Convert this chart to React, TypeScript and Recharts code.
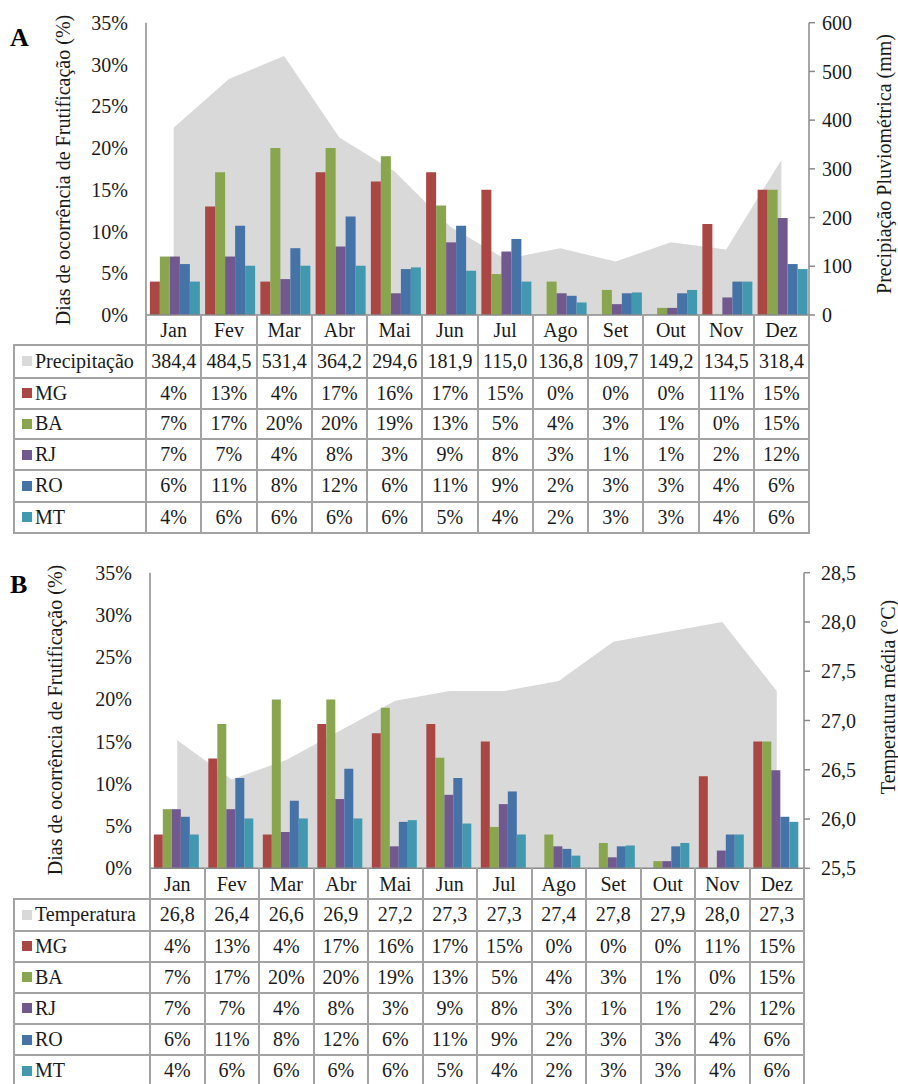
import React from 'react';
import { ComposedChart, Bar, Area, XAxis, YAxis } from 'recharts';

const months = ['Jan', 'Fev', 'Mar', 'Abr', 'Mai', 'Jun', 'Jul', 'Ago', 'Set', 'Out', 'Nov', 'Dez'];
const precipitation = [384.4, 484.5, 531.4, 364.2, 294.6, 181.9, 115.0, 136.8, 109.7, 149.2, 134.5, 318.4];
const temperature = [26.8, 26.4, 26.6, 26.9, 27.2, 27.3, 27.3, 27.4, 27.8, 27.9, 28.0, 27.3];

// bar heights (%)
const mgBars = [4.0, 13.0, 4.0, 17.1, 16.0, 17.1, 15.0, 0, 0, 0, 10.9, 15.0];
const baBars = [7.0, 17.1, 20.0, 20.0, 19.0, 13.1, 4.9, 4.0, 3.0, 0.85, 0, 15.0];
const rjBars = [7.0, 7.0, 4.3, 8.2, 2.6, 8.7, 7.6, 2.6, 1.3, 0.85, 2.1, 11.6];
const roBars = [6.1, 10.7, 8.0, 11.8, 5.5, 10.7, 9.1, 2.3, 2.6, 2.6, 4.0, 6.1];
const mtBars = [4.0, 5.9, 5.9, 5.9, 5.7, 5.3, 4.0, 1.5, 2.7, 3.0, 4.0, 5.5];

// table values (%)
const mgTable = [4, 13, 4, 17, 16, 17, 15, 0, 0, 0, 11, 15];
const baTable = [7, 17, 20, 20, 19, 13, 5, 4, 3, 1, 0, 15];
const rjTable = [7, 7, 4, 8, 3, 9, 8, 3, 1, 1, 2, 12];
const roTable = [6, 11, 8, 12, 6, 11, 9, 2, 3, 3, 4, 6];
const mtTable = [4, 6, 6, 6, 6, 5, 4, 2, 3, 3, 4, 6];

const leftTicks = [0, 5, 10, 15, 20, 25, 30, 35];
const precTicks = [0, 100, 200, 300, 400, 500, 600];
const tempTicks = [25.5, 26.0, 26.5, 27.0, 27.5, 28.0, 28.5];

const COLORS = { MG: '#AA4643', BA: '#89A54E', RJ: '#71588F', RO: '#4572A7', MT: '#4198AF' };
const AREA_FILL = '#d9d9d9';
const FONT = '"Liberation Serif", "Times New Roman", serif';
const TEXT = '#1a1a1a';
const AXIS = '#8a8a8a';
const GRID = '#a3a3a3';

const data = months.map((m, i) => ({
  month: m,
  prec: precipitation[i],
  temp: temperature[i],
  MG: mgBars[i],
  BA: baBars[i],
  RJ: rjBars[i],
  RO: roBars[i],
  MT: mtBars[i],
}));

const seriesRows = [
  { name: 'MG', color: COLORS.MG, values: mgTable },
  { name: 'BA', color: COLORS.BA, values: baTable },
  { name: 'RJ', color: COLORS.RJ, values: rjTable },
  { name: 'RO', color: COLORS.RO, values: roTable },
  { name: 'MT', color: COLORS.MT, values: mtTable },
];

type PanelProps = {
  panelTop: number;
  letter: string;
  letterTop: number;
  plotLeft: number;
  plotRight: number;
  plotTop: number;
  plotBottom: number;
  headerBottom: number;
  rowBounds: number[];
  areaKey: string;
  rightDomain: [number, number];
  rightTicks: number[];
  rightFmt: (v: number) => string;
  rightTickMargin: number;
  leftTitleX: number;
  leftTitleY: number;
  rightTitle: string;
  rightTitleX: number;
  rightTitleY: number;
  firstLabel: string;
  firstValues: string[];
};

function Panel(p: PanelProps) {
  const W = 898;
  const chartH = p.headerBottom - p.panelTop;
  const yW = 60;
  const bw = (p.plotRight - p.plotLeft) / 12;
  const tableLeft = 14;
  const tableBottom = p.rowBounds[p.rowBounds.length - 1];
  const lines: React.ReactNode[] = [];
  const lw = 2;
  // vertical lines through header and rows
  for (let c = 0; c <= 12; c++) {
    const x = p.plotLeft + c * bw;
    lines.push(
      <div key={'v' + c} style={{ position: 'absolute', left: x - lw / 2, top: p.plotBottom, width: lw, height: tableBottom - p.plotBottom, background: GRID }} />
    );
  }
  lines.push(
    <div key="vl" style={{ position: 'absolute', left: tableLeft - lw / 2, top: p.rowBounds[0], width: lw, height: tableBottom - p.rowBounds[0], background: GRID }} />
  );
  p.rowBounds.forEach((y, i) => {
    lines.push(
      <div key={'h' + i} style={{ position: 'absolute', left: tableLeft - lw / 2, top: y - lw / 2, width: p.plotRight - tableLeft + lw, height: lw, background: GRID }} />
    );
  });

  const rows = [
    { name: p.firstLabel, color: AREA_FILL, texts: p.firstValues },
    ...seriesRows.map((r) => ({ name: r.name, color: r.color, texts: r.values.map((v) => `${v}%`) })),
  ];

  const cellStyle: React.CSSProperties = {
    position: 'absolute',
    display: 'flex',
    alignItems: 'center',
    justifyContent: 'center',
    fontFamily: FONT,
    fontSize: 20,
    color: TEXT,
    whiteSpace: 'nowrap',
  };

  return (
    <>
      <div style={{ position: 'absolute', left: 0, top: p.panelTop, width: W, height: chartH }}>
        <ComposedChart
          width={W}
          height={chartH}
          data={data}
          barCategoryGap="7%"
          barGap={0}
          margin={{ top: p.plotTop - p.panelTop, bottom: 0, left: p.plotLeft - yW, right: W - p.plotRight - yW }}
        >
          <XAxis
            dataKey="month"
            interval={0}
            height={p.headerBottom - p.plotBottom}
            axisLine={{ stroke: AXIS, strokeWidth: 1.5 }}
            tickLine={false}
            tickSize={0}
            tickMargin={8}
            tick={{ fill: TEXT, fontSize: 20, fontFamily: FONT }}
          />
          <YAxis
            yAxisId="left"
            width={yW}
            domain={[0, 35]}
            ticks={leftTicks}
            tickFormatter={(v: number) => `${v}%`}
            axisLine={{ stroke: AXIS, strokeWidth: 1.5 }}
            tickLine={false}
            tickSize={6}
            tickMargin={12}
            tick={{ fill: TEXT, fontSize: 20, fontFamily: FONT }}
          />
          <YAxis
            yAxisId="right"
            orientation="right"
            width={yW}
            domain={p.rightDomain}
            ticks={p.rightTicks}
            allowDataOverflow
            tickFormatter={p.rightFmt}
            axisLine={{ stroke: AXIS, strokeWidth: 1.5 }}
            tickLine={{ stroke: AXIS, strokeWidth: 1.5 }}
            tickSize={6}
            tickMargin={p.rightTickMargin}
            tick={{ fill: TEXT, fontSize: 20, fontFamily: FONT, textAnchor: 'start' }}
          />
          <Area
            yAxisId="right"
            dataKey={p.areaKey}
            type="linear"
            fill={AREA_FILL}
            fillOpacity={1}
            stroke="none"
            dot={false}
            activeDot={false}
            isAnimationActive={false}
          />
          {seriesRows.map((s) => (
            <Bar key={s.name} yAxisId="left" dataKey={s.name} fill={s.color} isAnimationActive={false} />
          ))}
        </ComposedChart>
      </div>
      {lines}
      {rows.map((r, ri) => {
        const top = p.rowBounds[ri];
        const h = p.rowBounds[ri + 1] - top;
        return (
          <React.Fragment key={'r' + ri}>
            <div style={{ ...cellStyle, left: tableLeft, top, width: p.plotLeft - tableLeft, height: h, justifyContent: 'flex-start' }}>
              <span style={{ display: 'inline-block', width: 10, height: 10, background: r.color, marginLeft: 8, marginRight: 3 }} />
              <span>{r.name}</span>
            </div>
            {r.texts.map((t, ci) => (
              <div key={ci} style={{ ...cellStyle, left: p.plotLeft + ci * bw, top, width: bw, height: h }}>
                {t}
              </div>
            ))}
          </React.Fragment>
        );
      })}
      <div style={{ position: 'absolute', left: 10, top: p.letterTop, fontFamily: FONT, fontSize: 26, fontWeight: 'bold', color: '#000', lineHeight: 1 }}>
        {p.letter}
      </div>
      <div
        style={{
          position: 'absolute',
          left: p.leftTitleX,
          top: p.leftTitleY,
          transform: 'translate(-50%, -50%) rotate(-90deg)',
          fontFamily: FONT,
          fontSize: 20,
          color: TEXT,
          whiteSpace: 'nowrap',
        }}
      >
        Dias de ocorrência de Frutificação (%)
      </div>
      <div
        style={{
          position: 'absolute',
          left: p.rightTitleX,
          top: p.rightTitleY,
          transform: 'translate(-50%, -50%) rotate(-90deg)',
          fontFamily: FONT,
          fontSize: 20,
          color: TEXT,
          whiteSpace: 'nowrap',
        }}
      >
        {p.rightTitle}
      </div>
    </>
  );
}

export default function App() {
  return (
    <div style={{ position: 'absolute', left: 0, top: 0, width: 898, height: 1084, background: '#fff', overflow: 'hidden' }}>
      <Panel
        panelTop={0}
        letter="A"
        letterTop={25}
        plotLeft={146}
        plotRight={809}
        plotTop={22.7}
        plotBottom={315}
        headerBottom={345}
        rowBounds={[345, 377.5, 408.5, 439, 470, 501.5, 533]}
        areaKey="prec"
        rightDomain={[0, 600]}
        rightTicks={precTicks}
        rightFmt={(v: number) => `${v}`}
        rightTickMargin={7}
        leftTitleX={63}
        leftTitleY={170}
        rightTitle="Precipiação Pluviométrica (mm)"
        rightTitleX={884}
        rightTitleY={164}
        firstLabel="Precipitação"
        firstValues={precipitation.map((v) => v.toFixed(1).replace('.', ','))}
      />
      <Panel
        panelTop={545}
        letter="B"
        letterTop={572}
        plotLeft={150}
        plotRight={804}
        plotTop={572.7}
        plotBottom={868.3}
        headerBottom={899}
        rowBounds={[899, 930.5, 961.5, 992.5, 1024, 1055, 1086]}
        areaKey="temp"
        rightDomain={[25.5, 28.5]}
        rightTicks={tempTicks}
        rightFmt={(v: number) => v.toFixed(1).replace('.', ',')}
        rightTickMargin={11}
        leftTitleX={55}
        leftTitleY={720}
        rightTitle="Temperatura média (°C)"
        rightTitleX={888}
        rightTitleY={697}
        firstLabel="Temperatura"
        firstValues={temperature.map((v) => v.toFixed(1).replace('.', ','))}
      />
    </div>
  );
}
